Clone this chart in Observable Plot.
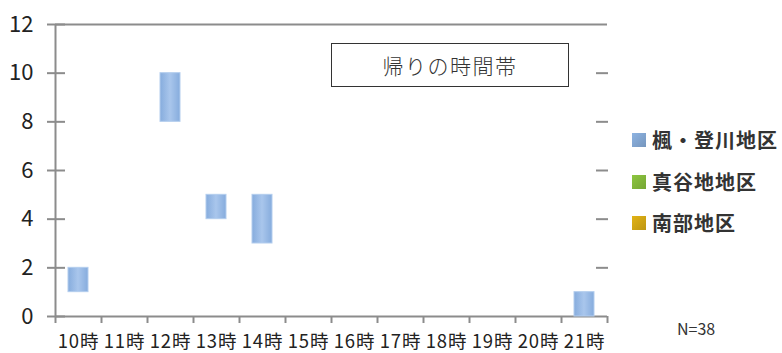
<!DOCTYPE html>
<html><head><meta charset="utf-8">
<script src="https://cdn.jsdelivr.net/npm/d3@7"></script>
<script src="https://cdn.jsdelivr.net/npm/@observablehq/plot@0.6"></script>
<style>
body{margin:0;background:#fff;}
#wrap{position:relative;width:782px;height:353px;font-family:"Noto Sans CJK JP","Noto Sans",sans-serif;}
#title{position:absolute;left:331px;top:43px;width:236px;height:42px;border:1.3px solid #333;display:flex;align-items:center;justify-content:center;font-size:21px;font-weight:300;color:#333;letter-spacing:1.5px;}
.leg{position:absolute;left:632px;display:flex;align-items:center;font-size:20px;font-weight:bold;color:#333;letter-spacing:1px;}
.sw{width:14px;height:14px;margin-right:6px;}
#n{position:absolute;left:677px;top:316px;font-size:16px;color:#333;}
g[aria-label="x-axis tick label"] text{letter-spacing:0.8px;}
</style></head>
<body><div id="wrap"></div>
<script>
const hours = ["10時","11時","12時","13時","14時","15時","16時","17時","18時","19時","20時","21時"];
const series = ["楓・登川地区","真谷地地区","南部地区"];
const seriesColors = ["#8db3e2","#8dc63f","#e2b315"];
const kaedeLow  = [1, null, 8, 4, 3, null, null, null, null, null, null, 0];
const kaedeHigh = [2, null, 10, 5, 5, null, null, null, null, null, null, 1];
const yTicks = [0,2,4,6,8,10,12];
const nLabel = "N=38";
const chartTitle = "帰りの時間帯";

const rows = hours.map((h,i)=>({hour:h, low:kaedeLow[i], high:kaedeHigh[i]})).filter(d=>d.low!=null);
const gray = "#8c8c8c";

const plot = Plot.plot({
  width: 782, height: 353,
  marginLeft: 55, marginRight: 175, marginTop: 24, marginBottom: 37,
  style: {fontFamily: '"Noto Sans CJK JP", sans-serif', color:"#222", background:"#fff"},
  x: {type:"band", domain: hours, padding: 0},
  y: {domain:[0,12]},
  marks: [
    Plot.ruleX([hours[0]], {dx:-23, y1:0, y2:12, stroke:gray, strokeWidth:2}),
    Plot.ruleY([0,12], {stroke:gray, strokeWidth:2}),
    Plot.axisY(yTicks, {anchor:"left", tickSize:18, dx:10, fill:"none", stroke:gray, strokeWidth:2}),
    Plot.axisY(yTicks, {anchor:"left", tickSize:8, tickPadding:14, stroke:"none", fontSize:22, fill:"#222"}),
    Plot.axisY([2,4,6,8,10], {anchor:"right", tickSize:12, dx:-12, fill:"none", stroke:gray, strokeWidth:2}),
    Plot.axisX(hours, {anchor:"bottom", tickSize:7, dx:-23, fill:"none", stroke:gray, strokeWidth:2}),
    Plot.axisX([hours[hours.length-1]], {anchor:"bottom", tickSize:7, dx:23, fill:"none", stroke:gray, strokeWidth:2}),
    Plot.axisX(hours, {anchor:"bottom", tickSize:0, tickPadding:18, stroke:"none", fontSize:18.5, fill:"#222", label:null}),
    Plot.barY(rows, {x:"hour", y1:"low", y2:"high", fill:"url(#gBlue)", stroke:"#b3cdee", strokeWidth:1, insetLeft:13, insetRight:13})
  ]
});
plot.querySelectorAll('[aria-label="y-axis label"],[aria-label="x-axis label"]').forEach(e=>e.remove());
const defs = document.createElementNS("http://www.w3.org/2000/svg","defs");
defs.innerHTML = `<linearGradient id="gBlue" x1="0" x2="1" y1="0" y2="0">
<stop offset="0" stop-color="#86acdd"/><stop offset="0.5" stop-color="#a9c6ec"/><stop offset="1" stop-color="#86acdd"/></linearGradient>`;
plot.insertBefore(defs, plot.firstChild);

const wrap = document.getElementById("wrap");
wrap.appendChild(plot);
const t = document.createElement("div"); t.id="title"; t.textContent = chartTitle; wrap.appendChild(t);
const legTops = [125, 167, 208];
series.forEach((s,i)=>{
  const d = document.createElement("div"); d.className="leg"; d.style.top = legTops[i]+"px";
  d.innerHTML = `<div class="sw" style="background:linear-gradient(135deg, ${seriesColors[i]}, ${d3.color(seriesColors[i]).darker(0.5)})"></div><span>${s}</span>`;
  wrap.appendChild(d);
});
const n = document.createElement("div"); n.id="n"; n.textContent = nLabel; wrap.appendChild(n);
</script></body></html>
